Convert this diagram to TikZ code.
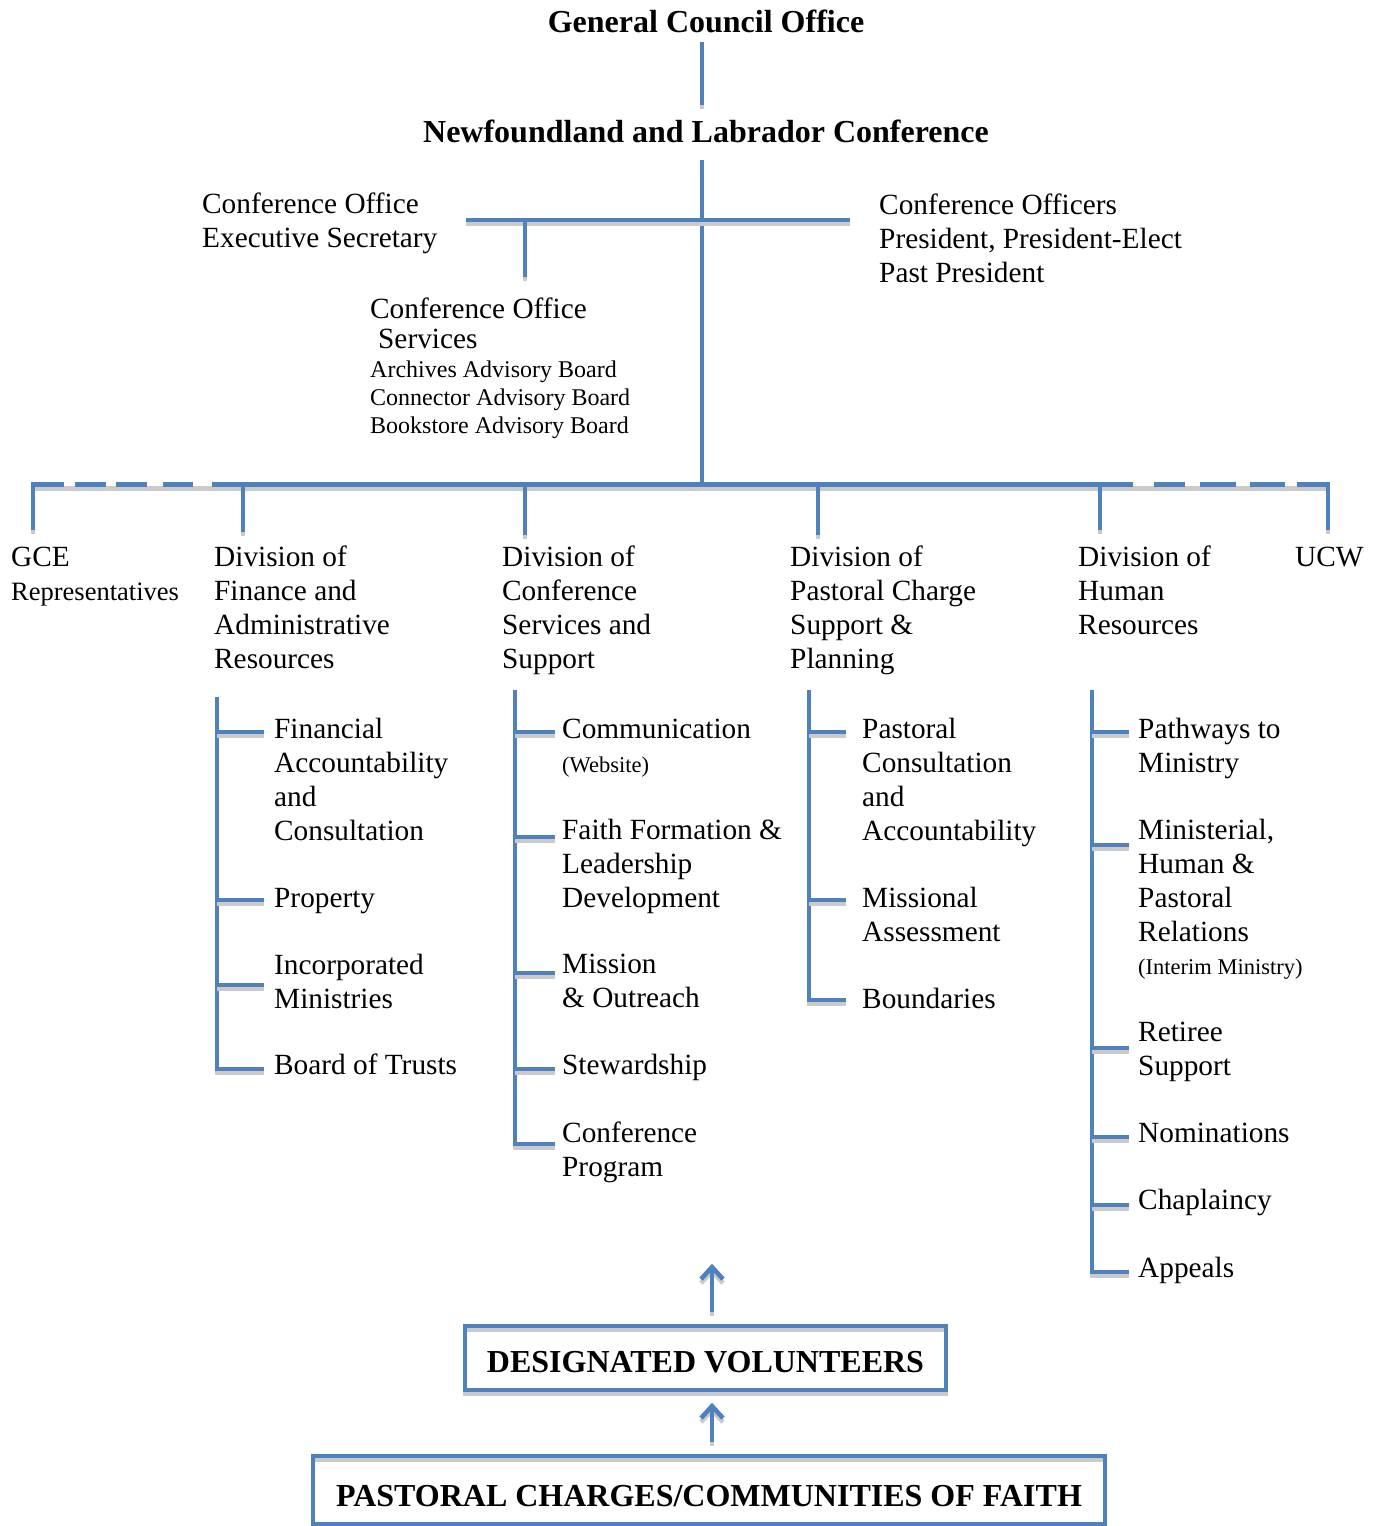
\documentclass[tikz,border=0pt]{standalone}
\usepackage{fontspec}
\setmainfont{Liberation Serif}
\usetikzlibrary{arrows.meta}
\definecolor{lineblue}{HTML}{4F81BD}
\definecolor{shadowgray}{HTML}{CACACA}
\begin{document}
\begin{tikzpicture}[x=1pt,y=-1pt,
  conn/.style={draw=lineblue, line width=4.6pt,
    preaction={draw=shadowgray, line width=4.6pt, transform canvas={yshift=-4pt}}},
  upar/.style={conn, -{Straight Barb[length=12pt,width=22pt]}},
  txt/.style={anchor=base west, inner sep=0pt, align=left, font=\fontsize{29.3}{34}\selectfont},
  smalltxt/.style={anchor=base west, inner sep=0pt, align=left, font=\fontsize{24}{28}\selectfont},
  tinytxt/.style={anchor=base west, inner sep=0pt, font=\fontsize{22.5}{26}\selectfont},
  reptxt/.style={anchor=base west, inner sep=0pt, font=\fontsize{26.5}{30}\selectfont},
  title/.style={anchor=base, inner sep=0pt, font=\fontsize{32}{36}\selectfont\bfseries},
  boxnode/.style={draw=lineblue, line width=4.6pt,
    preaction={draw=shadowgray, line width=4.6pt, transform canvas={yshift=-4pt}},
    font=\fontsize{32}{36}\selectfont\bfseries, text depth=0pt, inner xsep=0pt}
]
\useasboundingbox (0,0) rectangle (1377,1526);

% ---------- top ----------
\node[title] (gco) at (706,32) {General Council Office};
\node[title] (nlc) at (706,142) {Newfoundland and Labrador Conference};

\coordinate (t1) at (702,42);
\coordinate (t2) at (702,105);
\coordinate (t3) at (702,160);
\coordinate (hub) at (702,220);
\coordinate (hl) at (466,220);
\coordinate (hr) at (850,220);
\coordinate (cosj) at (525,220);
\coordinate (cose) at (525,277);
\coordinate (main) at (702,484.5);

\draw[conn] (t1) -- (t2);
\draw[conn] (t3) -- (main);
\draw[conn] (hl) -- (hr);
\draw[conn] (cosj) -- (cose);

% (multi-line nodes: base anchor = baseline of the last line)
\node[txt] (coes) at (202,247) {Conference Office\\Executive Secretary};
\node[txt] (cofc) at (879,282) {Conference Officers\\President, President-Elect\\Past President};
\node[txt, font=\fontsize{29.3}{30}\selectfont] (cos) at (370,348) {Conference Office\\\hspace*{8pt}Services};
\node[smalltxt, font=\fontsize{24}{27.8}\selectfont] (boards) at (370,433) {Archives Advisory Board\\Connector Advisory Board\\Bookstore Advisory Board};

% ---------- division bar ----------
\coordinate (bl) at (212,484.5);
\coordinate (br) at (1133,484.5);
\coordinate (gcetop) at (33,484.5);
\coordinate (gcebot) at (33,530);
\coordinate (ucwtop) at (1328,484.5);
\coordinate (ucwbot) at (1328,530);
\coordinate (d1t) at (243,484.5);   \coordinate (d1b) at (243,532);
\coordinate (d2t) at (525,484.5);   \coordinate (d2b) at (525,535);
\coordinate (d3t) at (818,484.5);   \coordinate (d3b) at (818,535);
\coordinate (d4t) at (1100,484.5);  \coordinate (d4b) at (1100,530);

\draw[conn] (bl) -- (br);
\draw[conn, dash pattern=on 76pt off 11pt on 31pt off 10pt on 31pt off 16pt on 30pt off 40pt]
  (gcebot) -- (gcetop) -- (bl);
\draw[conn, dash pattern=on 77pt off 12pt on 35pt off 14pt on 36pt off 15pt on 31pt off 40pt]
  (ucwbot) -- (ucwtop) -- (br);
\draw[conn] (d1t) -- (d1b);
\draw[conn] (d2t) -- (d2b);
\draw[conn] (d3t) -- (d3b);
\draw[conn] (d4t) -- (d4b);

\node[txt] (gce) at (11,566) {GCE};
\node[reptxt] (gcer) at (11,600) {Representatives};
\node[txt] (dfin) at (214,668) {Division of\\Finance and\\Administrative\\Resources};
\node[txt] (dcss) at (502,668) {Division of\\Conference\\Services and\\Support};
\node[txt] (dpcs) at (790,668) {Division of\\Pastoral Charge\\Support \&\\Planning};
\node[txt] (dhr) at (1078,634) {Division of\\Human\\Resources};
\node[txt] (ucw) at (1295,566) {UCW};

% ---------- Finance column ----------
\coordinate (f0) at (217,697);
\coordinate (f1) at (217,732);  \coordinate (f1e) at (264,732);
\coordinate (f2) at (217,900);  \coordinate (f2e) at (264,900);
\coordinate (f3) at (217,985);  \coordinate (f3e) at (264,985);
\coordinate (f4) at (217,1069); \coordinate (f4e) at (264,1069);
\draw[conn] (f0) -- (f4) -- (f4e);
\draw[conn] (f1) -- (f1e);
\draw[conn] (f2) -- (f2e);
\draw[conn] (f3) -- (f3e);
\node[txt] (fac) at (274,840) {Financial\\Accountability\\and\\Consultation};
\node[txt] (prop) at (274,907) {Property};
\node[txt] (incm) at (274,1008) {Incorporated\\Ministries};
\node[txt] (bot) at (274,1074) {Board of Trusts};

% ---------- Conference services column ----------
\coordinate (c0) at (515,690);
\coordinate (c1) at (515,732);  \coordinate (c1e) at (555,732);
\coordinate (c2) at (515,837);  \coordinate (c2e) at (555,837);
\coordinate (c3) at (515,973);  \coordinate (c3e) at (555,973);
\coordinate (c4) at (515,1069); \coordinate (c4e) at (555,1069);
\coordinate (c5) at (515,1144); \coordinate (c5e) at (555,1144);
\draw[conn] (c0) -- (c5) -- (c5e);
\draw[conn] (c1) -- (c1e);
\draw[conn] (c2) -- (c2e);
\draw[conn] (c3) -- (c3e);
\draw[conn] (c4) -- (c4e);
\node[txt] (comm) at (562,738) {Communication};
\node[tinytxt] (web) at (562,772) {(Website)};
\node[txt] (ffld) at (562,907) {Faith Formation \&\\Leadership\\Development};
\node[txt] (mo) at (562,1007) {Mission\\\& Outreach};
\node[txt] (stew) at (562,1074) {Stewardship};
\node[txt] (cprog) at (562,1176) {Conference\\Program};

% ---------- Pastoral column ----------
\coordinate (p0) at (809,690);
\coordinate (p1) at (809,732);  \coordinate (p1e) at (846,732);
\coordinate (p2) at (809,900);  \coordinate (p2e) at (846,900);
\coordinate (p3) at (809,1000); \coordinate (p3e) at (846,1000);
\draw[conn] (p0) -- (p3) -- (p3e);
\draw[conn] (p1) -- (p1e);
\draw[conn] (p2) -- (p2e);
\node[txt] (pca) at (862,840) {Pastoral\\Consultation\\and\\Accountability};
\node[txt] (mass) at (862,941) {Missional\\Assessment};
\node[txt] (bound) at (862,1008) {Boundaries};

% ---------- Human resources column ----------
\coordinate (h0) at (1092,690);
\coordinate (h1) at (1092,732);  \coordinate (h1e) at (1129,732);
\coordinate (h2) at (1092,845);  \coordinate (h2e) at (1129,845);
\coordinate (h3) at (1092,1048); \coordinate (h3e) at (1129,1048);
\coordinate (h4) at (1092,1137); \coordinate (h4e) at (1129,1137);
\coordinate (h5) at (1092,1205); \coordinate (h5e) at (1129,1205);
\coordinate (h6) at (1092,1272); \coordinate (h6e) at (1129,1272);
\draw[conn] (h0) -- (h6) -- (h6e);
\draw[conn] (h1) -- (h1e);
\draw[conn] (h2) -- (h2e);
\draw[conn] (h3) -- (h3e);
\draw[conn] (h4) -- (h4e);
\draw[conn] (h5) -- (h5e);
\node[txt] (ptm) at (1138,772) {Pathways to\\Ministry};
\node[txt] (mhpr) at (1138,941) {Ministerial,\\Human \&\\Pastoral\\Relations};
\node[tinytxt] (interim) at (1138,974) {(Interim Ministry)};
\node[txt] (ret) at (1138,1075) {Retiree\\Support};
\node[txt] (nom) at (1138,1142) {Nominations};
\node[txt] (chap) at (1138,1209) {Chaplaincy};
\node[txt] (app) at (1138,1277) {Appeals};

% ---------- bottom boxes ----------
\node[boxnode, minimum width=481pt, text height=28pt, inner ysep=18pt] (dv) at (705.5,1358) {DESIGNATED VOLUNTEERS};
\node[boxnode, minimum width=792pt, text height=32pt, inner ysep=18pt] (pc) at (709,1490) {PASTORAL CHARGES/COMMUNITIES OF FAITH};

\draw[upar] ([xshift=6.5pt,yshift=12pt]dv.north) -- ++(0,-48);
\draw[upar] ([xshift=3pt,yshift=12pt]pc.north) -- ++(0,-39);
\end{tikzpicture}
\end{document}
